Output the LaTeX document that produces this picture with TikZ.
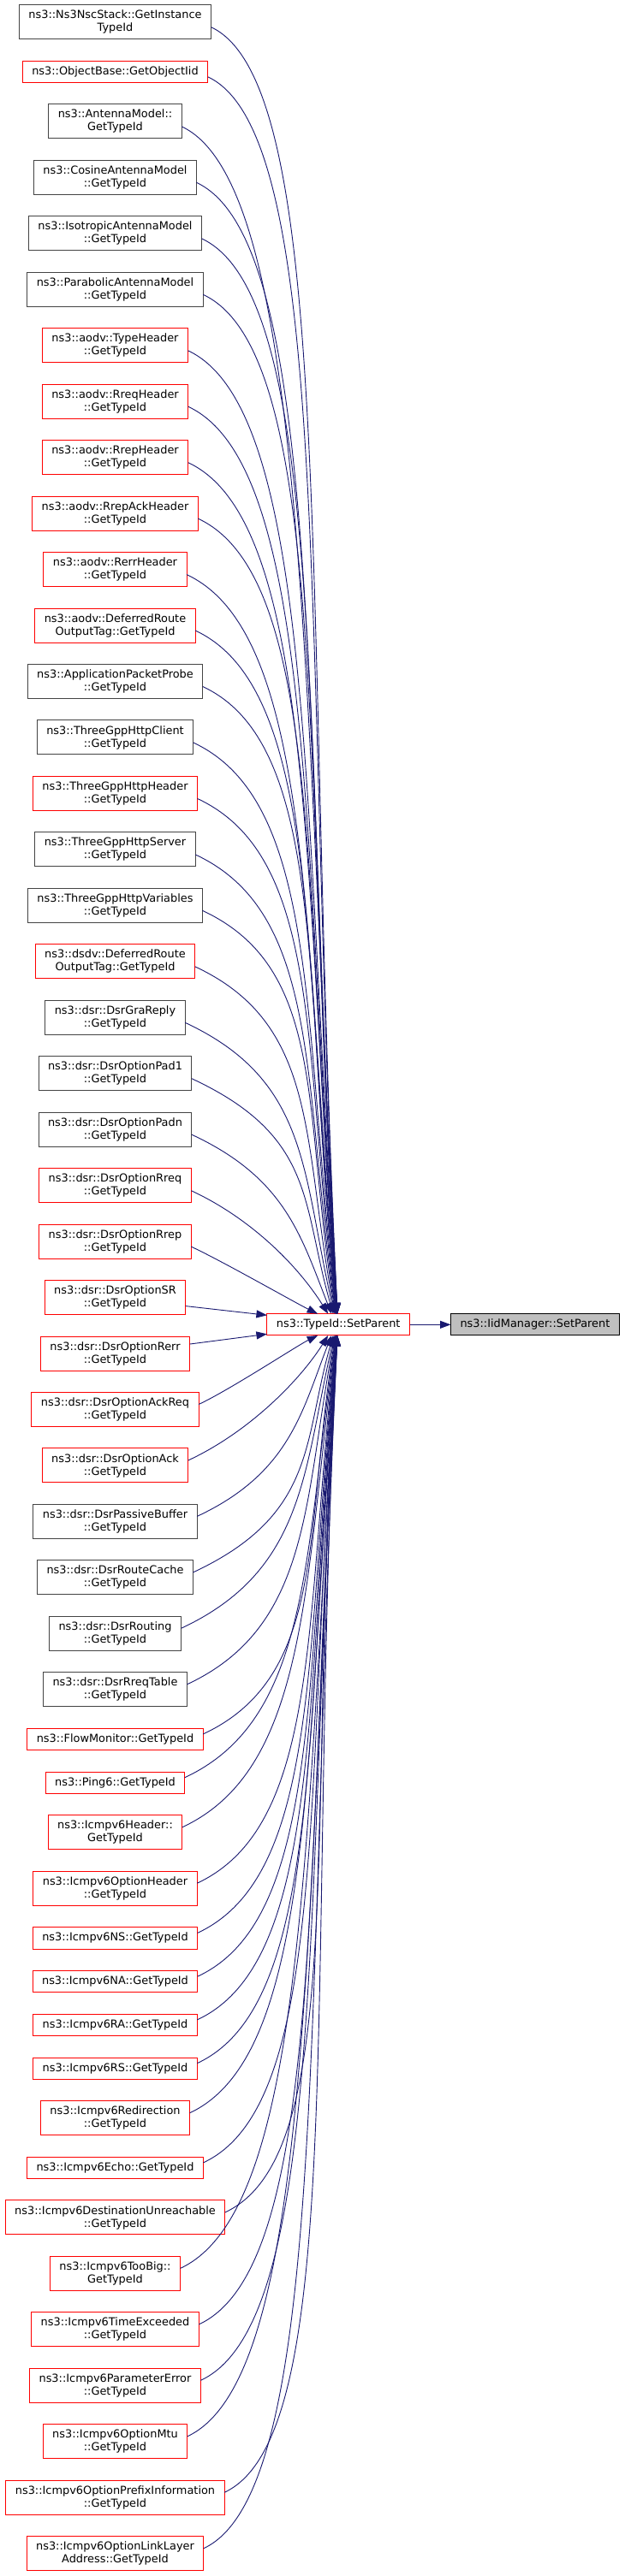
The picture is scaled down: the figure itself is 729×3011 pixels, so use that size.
\documentclass[tikz,border=0pt]{standalone}
\usepackage{fontspec}
\setmainfont{DejaVu Sans}
\usetikzlibrary{arrows.meta,positioning}
\definecolor{edgeblue}{HTML}{191970}
\definecolor{nodered}{HTML}{FF0000}
\definecolor{nodegray}{HTML}{444444}
\definecolor{leaffill}{HTML}{BFBFBF}

\begin{document}
\begin{tikzpicture}[x=1pt, y=1pt, node distance=25.46pt,
    fn/.style={draw=nodegray, fill=white, line width=1pt, align=center, inner xsep=11pt,
               inner ysep=2pt, outer sep=0pt, minimum height=40pt,
               font=\fontsize{12.9pt}{15pt}\selectfont},
    fnred/.style={fn, draw=nodered},
    oneline/.style={minimum height=25.3pt},
    leaf/.style={fn, draw=black, fill=leaffill, minimum height=25.3pt},
    edge/.style={edgeblue, line width=0.9pt, -{Triangle[length=12.5pt, width=9pt]}}]
  \useasboundingbox (0,0) rectangle (729,-3011);

  % callers, top to bottom
  \node[fn] (nsc) at (134.5,-25.7) {ns3::Ns3NscStack::GetInstance\\TypeId};
  \node[fnred, oneline, below=of nsc] (objbase) {ns3::ObjectBase::GetObjectIid};
  \node[fn, below=of objbase] (antenna) {ns3::AntennaModel::\\GetTypeId};
  \node[fn, below=of antenna] (cosine) {ns3::CosineAntennaModel\\::GetTypeId};
  \node[fn, below=of cosine] (isotropic) {ns3::IsotropicAntennaModel\\::GetTypeId};
  \node[fn, below=of isotropic] (parabolic) {ns3::ParabolicAntennaModel\\::GetTypeId};
  \node[fnred, below=of parabolic] (aodvtype) {ns3::aodv::TypeHeader\\::GetTypeId};
  \node[fnred, below=of aodvtype] (aodvrreq) {ns3::aodv::RreqHeader\\::GetTypeId};
  \node[fnred, below=of aodvrreq] (aodvrrep) {ns3::aodv::RrepHeader\\::GetTypeId};
  \node[fnred, below=of aodvrrep] (aodvrrepack) {ns3::aodv::RrepAckHeader\\::GetTypeId};
  \node[fnred, below=of aodvrrepack] (aodvrerr) {ns3::aodv::RerrHeader\\::GetTypeId};
  \node[fnred, below=of aodvrerr] (aodvdeferred) {ns3::aodv::DeferredRoute\\OutputTag::GetTypeId};
  \node[fn, below=of aodvdeferred] (appprobe) {ns3::ApplicationPacketProbe\\::GetTypeId};
  \node[fn, below=of appprobe] (httpclient) {ns3::ThreeGppHttpClient\\::GetTypeId};
  \node[fnred, below=of httpclient] (httpheader) {ns3::ThreeGppHttpHeader\\::GetTypeId};
  \node[fn, below=of httpheader] (httpserver) {ns3::ThreeGppHttpServer\\::GetTypeId};
  \node[fn, below=of httpserver] (httpvars) {ns3::ThreeGppHttpVariables\\::GetTypeId};
  \node[fnred, below=of httpvars] (dsdvdeferred) {ns3::dsdv::DeferredRoute\\OutputTag::GetTypeId};
  \node[fn, below=of dsdvdeferred] (dsrgra) {ns3::dsr::DsrGraReply\\::GetTypeId};
  \node[fn, below=of dsrgra] (dsrpad1) {ns3::dsr::DsrOptionPad1\\::GetTypeId};
  \node[fn, below=of dsrpad1] (dsrpadn) {ns3::dsr::DsrOptionPadn\\::GetTypeId};
  \node[fnred, below=of dsrpadn] (dsrrreq) {ns3::dsr::DsrOptionRreq\\::GetTypeId};
  \node[fnred, below=of dsrrreq] (dsrrrep) {ns3::dsr::DsrOptionRrep\\::GetTypeId};
  \node[fnred, below=of dsrrrep] (dsrsr) {ns3::dsr::DsrOptionSR\\::GetTypeId};
  \node[fnred, below=of dsrsr] (dsrrerr) {ns3::dsr::DsrOptionRerr\\::GetTypeId};
  \node[fnred, below=of dsrrerr] (dsrackreq) {ns3::dsr::DsrOptionAckReq\\::GetTypeId};
  \node[fnred, below=of dsrackreq] (dsrack) {ns3::dsr::DsrOptionAck\\::GetTypeId};
  \node[fn, below=of dsrack] (dsrbuffer) {ns3::dsr::DsrPassiveBuffer\\::GetTypeId};
  \node[fn, below=of dsrbuffer] (dsrcache) {ns3::dsr::DsrRouteCache\\::GetTypeId};
  \node[fn, below=of dsrcache] (dsrrouting) {ns3::dsr::DsrRouting\\::GetTypeId};
  \node[fn, below=of dsrrouting] (dsrrreqtable) {ns3::dsr::DsrRreqTable\\::GetTypeId};
  \node[fnred, oneline, below=of dsrrreqtable] (flowmon) {ns3::FlowMonitor::GetTypeId};
  \node[fnred, oneline, below=of flowmon] (ping6) {ns3::Ping6::GetTypeId};
  \node[fnred, below=of ping6] (icmpheader) {ns3::Icmpv6Header::\\GetTypeId};
  \node[fnred, below=of icmpheader] (icmpopthdr) {ns3::Icmpv6OptionHeader\\::GetTypeId};
  \node[fnred, oneline, below=of icmpopthdr] (icmpns) {ns3::Icmpv6NS::GetTypeId};
  \node[fnred, oneline, below=of icmpns] (icmpna) {ns3::Icmpv6NA::GetTypeId};
  \node[fnred, oneline, below=of icmpna] (icmpra) {ns3::Icmpv6RA::GetTypeId};
  \node[fnred, oneline, below=of icmpra] (icmprs) {ns3::Icmpv6RS::GetTypeId};
  \node[fnred, below=of icmprs] (icmpredir) {ns3::Icmpv6Redirection\\::GetTypeId};
  \node[fnred, oneline, below=of icmpredir] (icmpecho) {ns3::Icmpv6Echo::GetTypeId};
  \node[fnred, below=of icmpecho] (icmpdest) {ns3::Icmpv6DestinationUnreachable\\::GetTypeId};
  \node[fnred, below=of icmpdest] (icmptoobig) {ns3::Icmpv6TooBig::\\GetTypeId};
  \node[fnred, below=of icmptoobig] (icmptime) {ns3::Icmpv6TimeExceeded\\::GetTypeId};
  \node[fnred, below=of icmptime] (icmpparam) {ns3::Icmpv6ParameterError\\::GetTypeId};
  \node[fnred, below=of icmpparam] (icmpmtu) {ns3::Icmpv6OptionMtu\\::GetTypeId};
  \node[fnred, below=of icmpmtu] (icmpprefix) {ns3::Icmpv6OptionPrefixInformation\\::GetTypeId};
  \node[fnred, below=of icmpprefix] (icmplinklayer) {ns3::Icmpv6OptionLinkLayer\\Address::GetTypeId};

  % callee
  \node[fnred, oneline] (tp) at (395.2,-1548.3) {ns3::TypeId::SetParent};
  \node[leaf, right=48pt of tp] (iid) {ns3::IidManager::SetParent};

  % edges into the top of SetParent
  \foreach \src/\rk in {nsc/23, objbase/22, antenna/21, cosine/20, isotropic/19, parabolic/18,
      aodvtype/17, aodvrreq/16, aodvrrep/15, aodvrrepack/14, aodvrerr/13, aodvdeferred/12,
      appprobe/11, httpclient/10, httpheader/9, httpserver/8, httpvars/7, dsdvdeferred/6,
      dsrgra/5, dsrpad1/4, dsrpadn/3, dsrrreq/2, dsrrrep/1} {
    \pgfmathsetmacro\inang{90+64/\rk}
    \pgfmathsetmacro\indist{0.55*(65*\rk-15)}
    \pgfmathsetmacro\outdist{min(160,40*\rk)}
    \pgfmathsetmacro\xoff{24/\rk}
    \draw[edge] ([yshift=-6pt]\src.east) .. controls +(-25:\outdist pt) and +(\inang:\indist pt)
      .. ([xshift=-\xoff pt]tp.north);
  }
  % edges into the bottom of SetParent
  \foreach \src/\rk in {dsrackreq/1, dsrack/2, dsrbuffer/3, dsrcache/4, dsrrouting/5,
      dsrrreqtable/6, flowmon/7, ping6/8, icmpheader/9, icmpopthdr/10, icmpns/11, icmpna/12,
      icmpra/13, icmprs/14, icmpredir/15, icmpecho/16, icmpdest/17, icmptoobig/18,
      icmptime/19, icmpparam/20, icmpmtu/21, icmpprefix/22, icmplinklayer/23} {
    \pgfmathsetmacro\inang{270-64/\rk}
    \pgfmathsetmacro\indist{0.55*(62*\rk-15)}
    \pgfmathsetmacro\outdist{min(160,40*\rk)}
    \pgfmathsetmacro\xoff{24/\rk}
    \draw[edge] ([yshift=6pt]\src.east) .. controls +(25:\outdist pt) and +(\inang:\indist pt)
      .. ([xshift=-\xoff pt]tp.south);
  }
  \draw[edge] ([yshift=-10pt]dsrsr.east) -- ([yshift=11pt]tp.west);
  \draw[edge] ([yshift=11pt]dsrrerr.east) -- ([yshift=-11pt]tp.west);
  \draw[edge] (tp) -- (iid);
\end{tikzpicture}
\end{document}
